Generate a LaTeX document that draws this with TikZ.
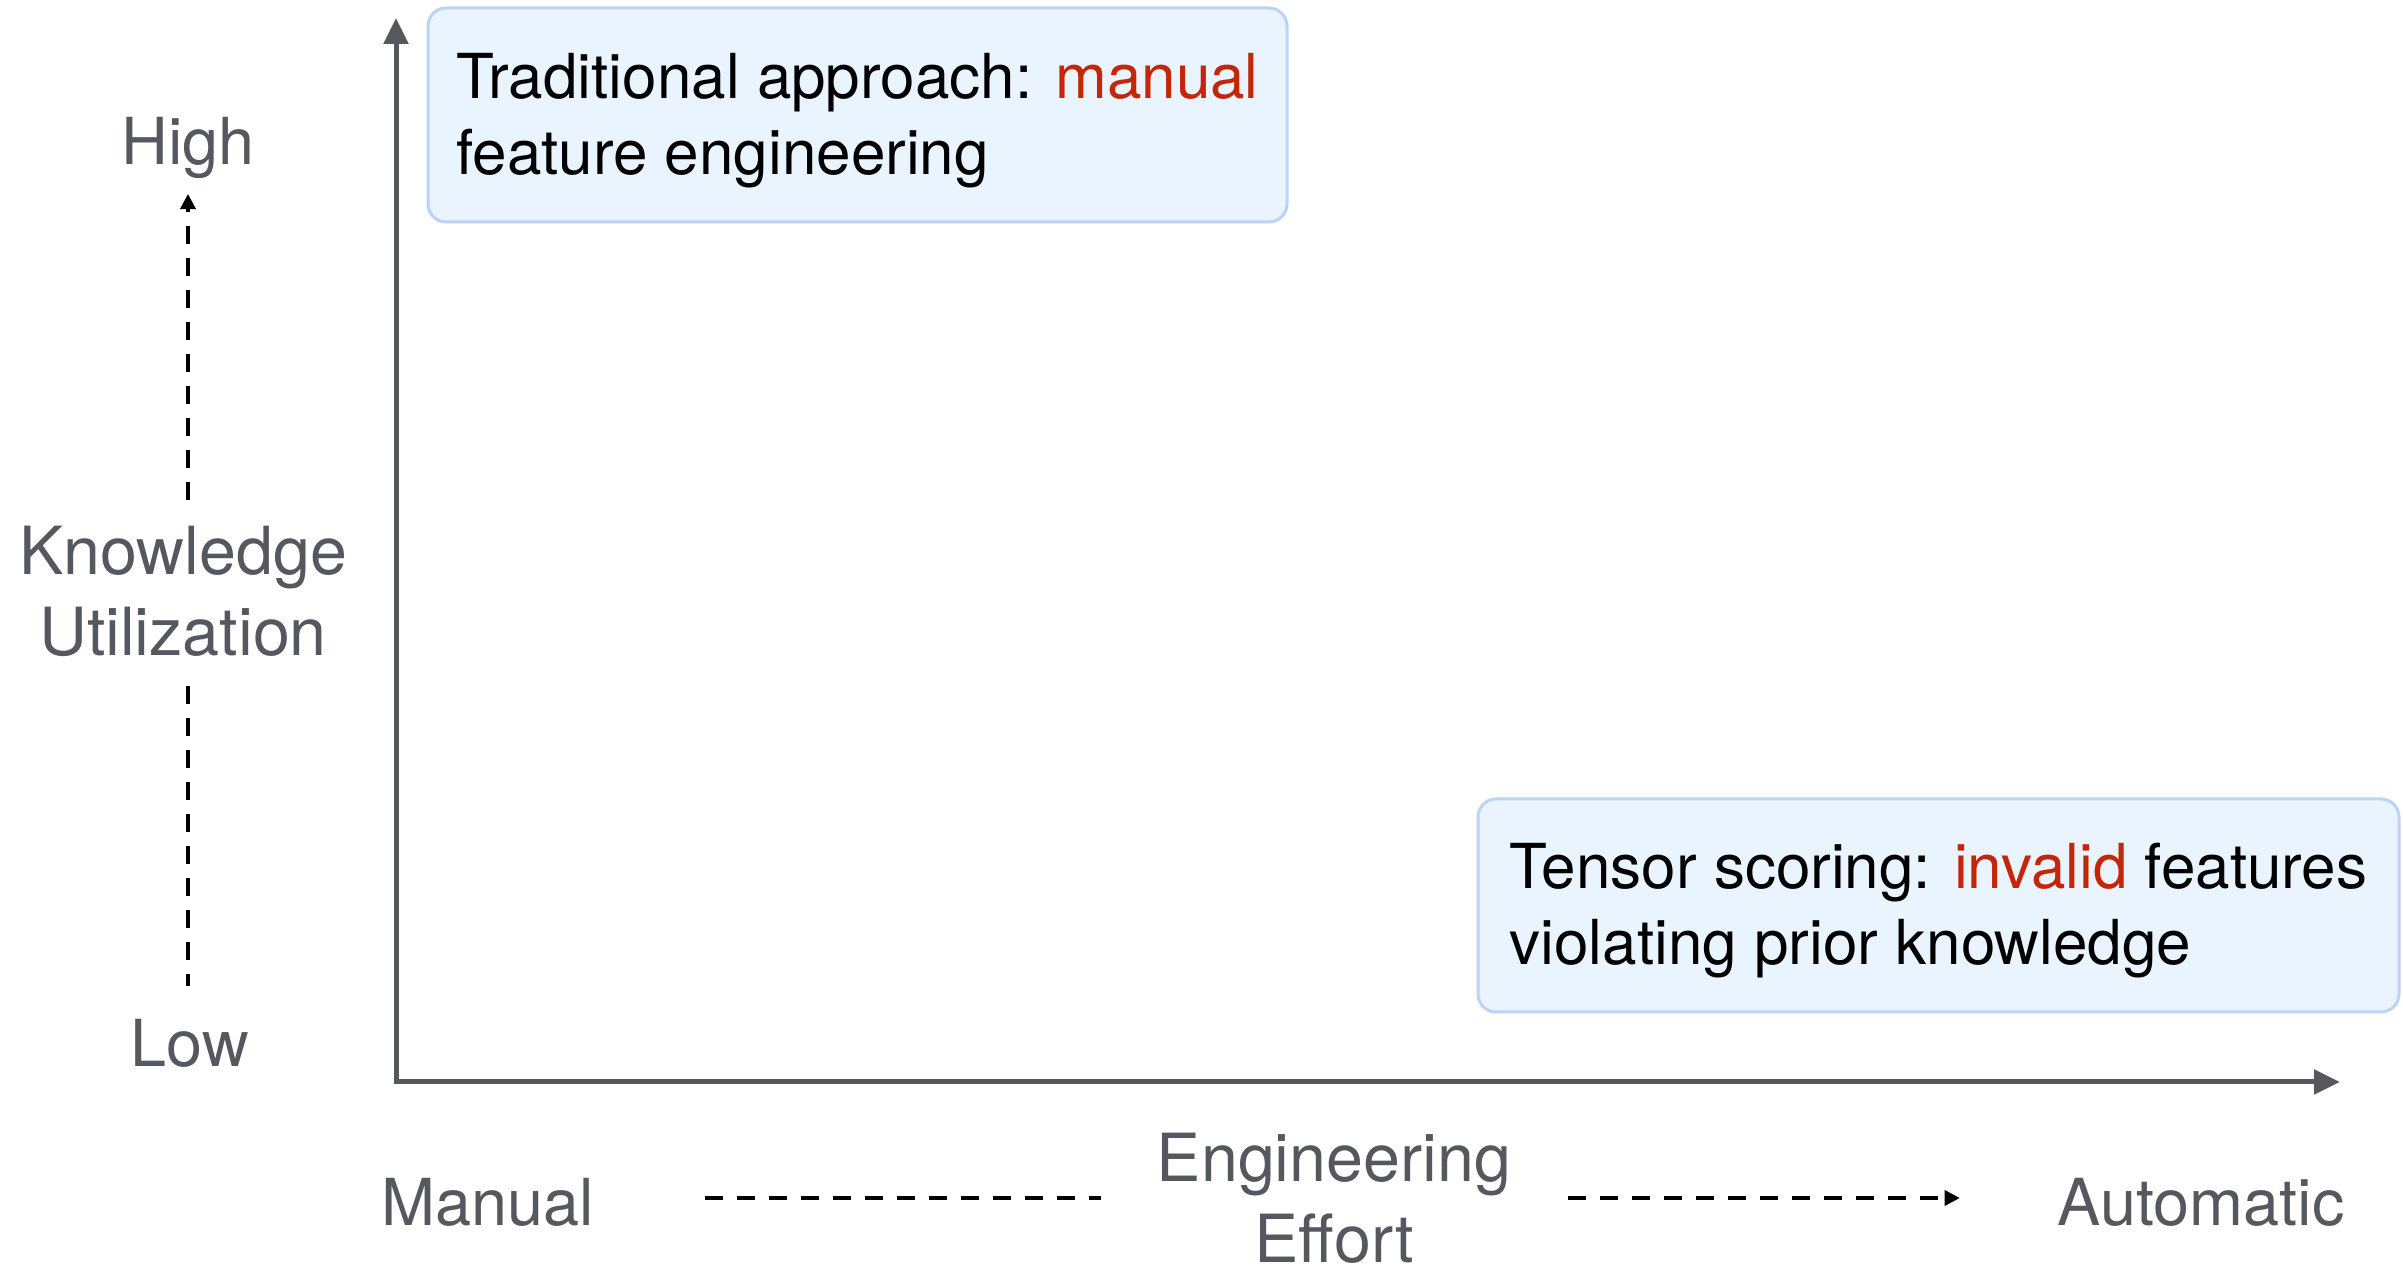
\documentclass[tikz,border=0pt]{standalone}
\usepackage{fontspec}
\setmainfont{TeX Gyre Heros}
\usetikzlibrary{arrows.meta}
\definecolor{axisgray}{HTML}{55595F}
\definecolor{boxfill}{HTML}{EAF4FE}
\definecolor{boxline}{HTML}{BAD3F7}
\definecolor{hlred}{HTML}{C4260A}
% strut that lowers the first line of a note a little
\newcommand{\firststrut}{\rule{0pt}{14pt}}

\begin{document}
\begin{tikzpicture}[x=0.25pt, y=-0.25pt,
  axis/.style={draw=axisgray, line width=1.25pt,
    {Triangle[length=6.5pt,width=6pt]}-{Triangle[length=6.5pt,width=6pt]}},
  guide/.style={draw=black, line width=0.8pt, dash pattern=on 4.5pt off 3.5pt},
  guidetip/.style={-{Triangle[length=3.8pt,width=3.8pt]}},
  note/.style={draw=boxline, fill=boxfill, line width=0.75pt, rounded corners=4.5pt,
    align=left, inner sep=0pt, text=black,
    font=\fontsize{15.5pt}{19pt}\selectfont},
  scalelabel/.style={text=axisgray, inner sep=0pt, font=\fontsize{16.2pt}{19pt}\selectfont},
  axistitle/.style={text=axisgray, inner sep=0pt, align=center,
    font=\fontsize{16.6pt}{20.25pt}\selectfont},
]
\path[use as bounding box] (0,0) rectangle (2403,1269);

% axes
\coordinate (O) at (396,1082);
\coordinate (ytop) at (396,18);
\coordinate (xend) at (2340,1082);
\draw[axis] (ytop) -- (O) -- (xend);

% annotation boxes
\node[note, minimum width=214.75pt, minimum height=53.5pt] (trad) at (857.5,115)
  {\firststrut Traditional approach: \textcolor{hlred}{manual}\\feature engineering};
\node[note, minimum width=230.25pt, minimum height=53.25pt] (tensor) at (1938.5,905.5)
  {\firststrut Tensor scoring: \textcolor{hlred}{invalid} features\\violating prior knowledge};

% vertical scale
\node[scalelabel, anchor=base] (high) at (188,165) {High};
\node[scalelabel, anchor=base] (low) at (190,1067) {Low};
\node[axistitle] (ku) at (183,591) {Knowledge\\Utilization};
\draw[guide, guidetip, shorten <=6.25pt, shorten >=3.5pt]
  (high.south |- ku.north) -- (high.south);
\draw[guide, shorten <=7.25pt, shorten >=8.25pt]
  (high.south |- ku.south) -- (high.south |- low.north);

% horizontal scale
\node[scalelabel, anchor=base] (manual) at (488,1226) {Manual};
\node[scalelabel, anchor=base] (auto) at (2201,1226) {Automatic};
\node[axistitle] (ee) at (1334,1198) {Engineering\\Effort};
\draw[guide, shorten <=27.5pt, shorten >=13.75pt]
  (manual.east |- ee.west) -- (ee.west);
\draw[guide, guidetip, shorten <=14pt, shorten >=24.25pt]
  (ee.east) -- (ee.east -| auto.west);
\end{tikzpicture}
\end{document}
